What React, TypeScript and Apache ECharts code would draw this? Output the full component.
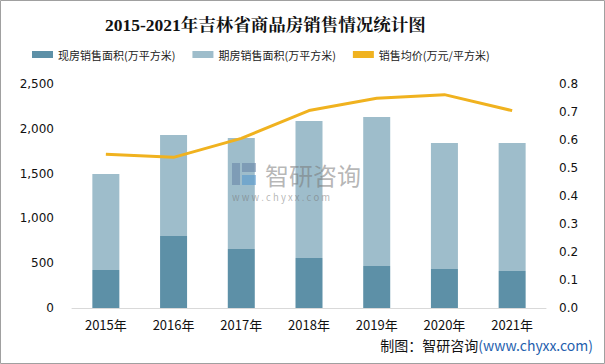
import React, { useEffect, useRef } from "react";
import * as echarts from "echarts";

const years = ["2015年", "2016年", "2017年", "2018年", "2019年", "2020年", "2021年"];
const spotArea = [424, 804, 658, 558, 469, 435, 413];
const futureArea = [1072, 1127, 1239, 1529, 1663, 1407, 1429];
const avgPrice = [0.549, 0.538, 0.606, 0.705, 0.749, 0.762, 0.705];
const seriesNames = ["现房销售面积(万平方米)", "期房销售面积(万平方米)", "销售均价(万元/平方米)"];

const C_DARK = "#5d90a7";
const C_LIGHT = "#9ebdcb";
const C_LINE = "#f0b21f";
const SANS = "'Noto Sans CJK SC', 'Noto Sans', sans-serif";
const WM = "rgba(120,120,120,0.55)";

export default function App() {
  const ref = useRef<HTMLDivElement>(null);
  useEffect(() => {
    if (!ref.current) return;
    const chart = echarts.init(ref.current, undefined, { renderer: "svg" });
    chart.setOption({
      animation: false,
      backgroundColor: "#ffffff",
      title: {
        text: "2015-2021年吉林省商品房销售情况统计图",
        left: 100,
        top: 11,
        textStyle: {
          fontFamily: "'Liberation Serif', 'Noto Serif CJK SC', serif",
          fontWeight: "bold",
          fontSize: 17.5,
          color: "#111",
        },
      },
      legend: {
        top: 44,
        left: 27,
        itemGap: 17,
        itemWidth: 21,
        itemHeight: 7,
        textStyle: { fontFamily: SANS, fontSize: 11, color: "#222" },
        data: [
          { name: seriesNames[0], icon: "rect" },
          { name: seriesNames[1], icon: "rect" },
          { name: seriesNames[2], icon: "rect", itemStyle: { color: C_LINE } },
        ],
      },
      grid: { left: 72, right: 59, top: 84, bottom: 56 },
      xAxis: {
        type: "category",
        data: years,
        axisTick: { show: false },
        axisLine: { lineStyle: { color: "#d9d9d9", width: 1 } },
        axisLabel: { fontFamily: SANS, fontSize: 13, color: "#111", margin: 10 },
      },
      yAxis: [
        {
          type: "value",
          min: 0,
          max: 2500,
          interval: 500,
          splitLine: { show: false },
          axisLine: { show: false },
          axisTick: { show: false },
          axisLabel: {
            fontFamily: "'DejaVu Sans', sans-serif",
            fontSize: 12,
            color: "#111",
            margin: 18,
            formatter: (v: number) => v.toLocaleString("en-US"),
          },
        },
        {
          type: "value",
          min: 0,
          max: 0.8,
          interval: 0.1,
          splitLine: { show: false },
          axisLine: { show: false },
          axisTick: { show: false },
          axisLabel: {
            fontFamily: "'DejaVu Sans', sans-serif",
            fontSize: 12,
            color: "#111",
            margin: 13,
            formatter: (v: number) => v.toFixed(1),
          },
        },
      ],
      series: [
        {
          name: seriesNames[0],
          type: "bar",
          stack: "area",
          barWidth: 27,
          itemStyle: { color: C_DARK },
          data: spotArea,
        },
        {
          name: seriesNames[1],
          type: "bar",
          stack: "area",
          barWidth: 27,
          itemStyle: { color: C_LIGHT },
          data: futureArea,
        },
        {
          name: seriesNames[2],
          type: "line",
          yAxisIndex: 1,
          symbol: "none",
          lineStyle: { color: C_LINE, width: 3 },
          itemStyle: { color: C_LINE },
          data: avgPrice,
          z: 5,
        },
      ],
      graphic: [
        {
          type: "rect",
          x: 0,
          y: 0,
          shape: { x: 0.5, y: 0.5, width: 604, height: 363 },
          style: { fill: "none", stroke: "#a0a0a0", lineWidth: 1 },
          silent: true,
        },
        { type: "rect", x: 0, y: 0, z: 10, silent: true, shape: { x: 232, y: 163, width: 8, height: 22 }, style: { fill: "rgba(100,130,165,0.55)" } },
        { type: "rect", x: 0, y: 0, z: 10, silent: true, shape: { x: 242, y: 163, width: 14, height: 9 }, style: { fill: "rgba(100,130,165,0.55)" } },
        { type: "rect", x: 0, y: 0, z: 10, silent: true, shape: { x: 242, y: 175, width: 14, height: 10 }, style: { fill: "rgba(80,150,205,0.55)" } },
        {
          type: "text",
          x: 265,
          y: 162,
          z: 10,
          silent: true,
          style: { text: "智研咨询", fontFamily: SANS, fontSize: 24, lineHeight: 24, fill: WM },
        },
        {
          type: "text",
          x: 232,
          y: 192,
          z: 10,
          silent: true,
          style: { text: "w w w . c h y x x . c o m", fontFamily: SANS, fontSize: 9.5, lineHeight: 10, fill: WM },
        },
        {
          type: "text",
          right: 12,
          top: 338,
          style: {
            text: "{a|制图：智研咨询}{b|(www.chyxx.com)}",
            rich: {
              a: { fontFamily: SANS, fontSize: 14, fill: "#111" },
              b: { fontFamily: SANS, fontSize: 14, fill: "#1f5fae" },
            },
          },
        },
      ],
    });
    return () => chart.dispose();
  }, []);
  return (
    <div
      ref={ref}
      style={{ position: "fixed", left: 0, top: 0, width: 605, height: 364 }}
    />
  );
}
